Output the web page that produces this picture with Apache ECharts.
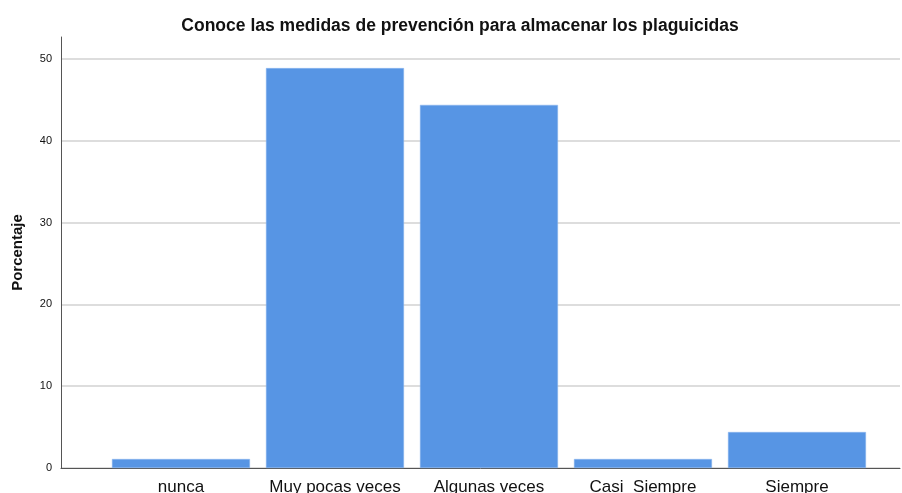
<!DOCTYPE html>
<html><head><meta charset="utf-8">
<script src="https://cdn.jsdelivr.net/npm/echarts@6/dist/echarts.min.js"></script>
<style>html,body{margin:0;padding:0;background:#fff}#c{width:902px;height:493px}</style>
</head><body><div id="c"></div>
<script>
const categories = ['nunca', 'Muy pocas veces', 'Algunas veces', 'Casi  Siempre', 'Siempre'];
const values = [1.1, 48.9, 44.4, 1.1, 4.4];
const yTicks = [0, 10, 20, 30, 40, 50];

const chart = echarts.init(document.getElementById('c'));
chart.setOption({
  animation: false,
  title: {
    text: 'Conoce las medidas de prevención para almacenar los plaguicidas',
    left: 455, top: 12, textAlign: 'center',
    textStyle: { fontFamily: 'Liberation Sans', fontWeight: 'bold', fontSize: 17.5, color: '#111' }
  },
  grid: { left: 61, right: 2, top: 37, bottom: 25, containLabel: false, outerBoundsMode: 'none' },
  xAxis: {
    type: 'value', min: -0.779, max: 4.669,
    axisLine: { show: true, onZero: false, lineStyle: { color: '#555', width: 1 } },
    axisTick: { show: false },
    splitLine: { show: false },
    axisLabel: {
      customValues: [0, 1, 2, 3, 4],
      formatter: v => categories[Math.round(v)] || '',
      fontFamily: 'Liberation Sans', fontSize: 17, color: '#111', margin: 11
    }
  },
  yAxis: {
    type: 'value', min: 0, max: 52.7, interval: 10,
    name: 'Porcentaje', nameLocation: 'middle', nameGap: 36, nameRotate: 90,
    nameTextStyle: { fontFamily: 'Liberation Sans', fontWeight: 'bold', fontSize: 15, color: '#111' },
    axisLine: { show: true, onZero: false, lineStyle: { color: '#555', width: 1 } },
    axisTick: { show: false },
    axisLabel: { fontFamily: 'Liberation Sans', fontSize: 11, color: '#111', margin: 9, showMaxLabel: false,
      formatter: v => yTicks.includes(v) ? String(v) : '' },
    splitLine: { show: true, showMaxLine: false, lineStyle: { color: '#d2d2d2', width: 1.5 } }
  },
  series: [{
    type: 'bar',
    barWidth: 138,
    data: values.map((v, i) => [i, v]),
    itemStyle: { color: '#5795e4', borderColor: '#8db6ee', borderWidth: 0.5 }
  }]
});
</script></body></html>
